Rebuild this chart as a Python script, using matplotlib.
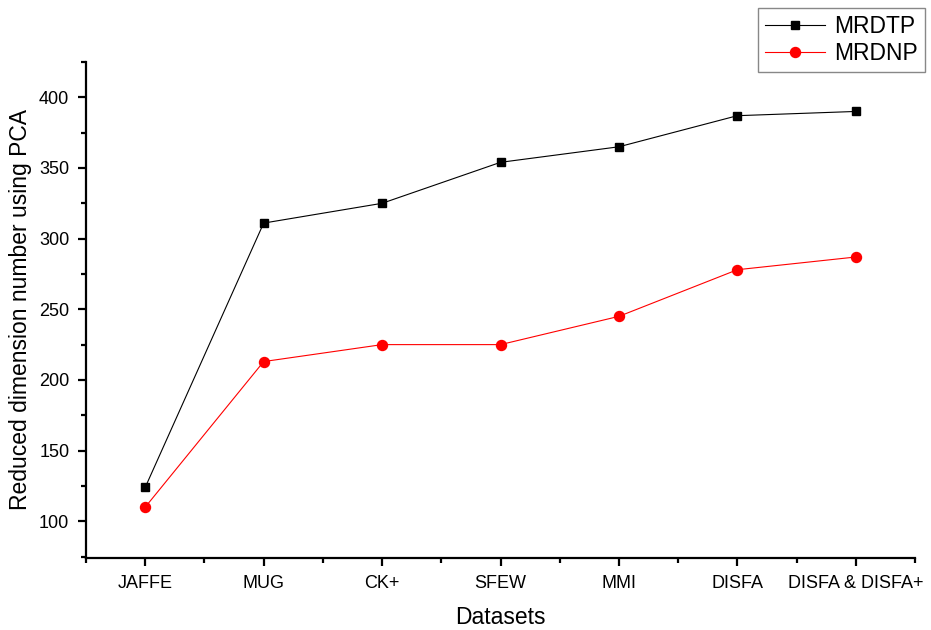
import matplotlib.pyplot as plt
from matplotlib.ticker import MultipleLocator

plt.rcParams['font.family'] = ['Liberation Sans', 'DejaVu Sans']

# 数据
datasets = ['JAFFE', 'MUG', 'CK+', 'SFEW', 'MMI', 'DISFA', 'DISFA & DISFA+']
mrdtp = [124, 311, 325, 354, 365, 387, 390]
mrdnp = [110, 213, 225, 225, 245, 278, 287]

fig = plt.figure(figsize=(9.31, 6.3), dpi=100)
ax = fig.add_axes([0.0924, 0.1143, 0.8904, 0.7873])

x = list(range(1, len(datasets) + 1))
ax.plot(x, mrdtp, color='black', linewidth=0.8, marker='s', markersize=6, label='MRDTP')
ax.plot(x, mrdnp, color='red', linewidth=0.8, marker='o', markersize=7.2, label='MRDNP')

ax.set_xlim(0.5, 7.5)
ax.set_ylim(74, 425)
ax.set_xticks(x)
ax.set_xticklabels(datasets)
ax.xaxis.set_minor_locator(plt.FixedLocator([i + 0.5 for i in range(0, 8)]))
ax.yaxis.set_major_locator(MultipleLocator(50))
ax.yaxis.set_minor_locator(MultipleLocator(25))

for s in ['top', 'right']:
    ax.spines[s].set_visible(False)
for s in ['left', 'bottom']:
    ax.spines[s].set_linewidth(1.6)

ax.tick_params(which='major', direction='out', length=6, width=1.6, labelsize=13, pad=6)
ax.tick_params(which='minor', direction='out', length=3.5, width=1.6)

ax.set_xlabel('Datasets', fontsize=16.5, labelpad=10)
ax.set_ylabel('Reduced dimension number using PCA', fontsize=16.5, labelpad=5)

leg = fig.legend(loc='upper right', bbox_to_anchor=(0.998, 0.995), fontsize=16.5,
                 fancybox=False, edgecolor='#888888', framealpha=1,
                 handlelength=2.6, borderpad=0.3, labelspacing=0.2, handletextpad=0.4,
                 borderaxespad=0.2)
leg.get_frame().set_linewidth(1.0)

fig.savefig('out.png', dpi=100)
